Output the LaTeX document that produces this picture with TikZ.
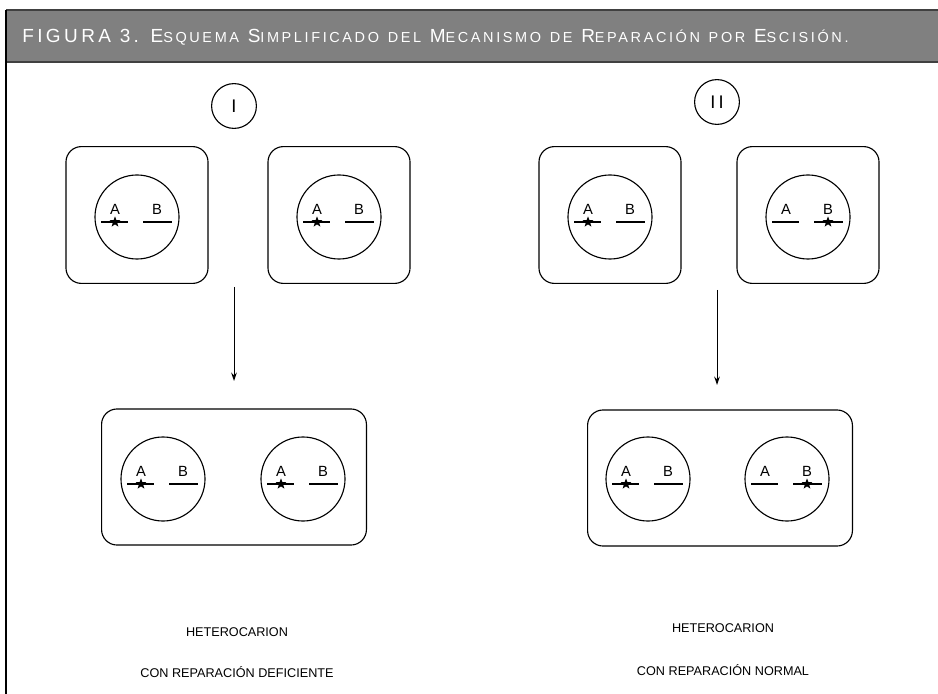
\documentclass[tikz,border=0pt]{standalone}
\usepackage{fontspec}
\setmainfont{Liberation Sans}
\usetikzlibrary{shapes.geometric, arrows.meta, positioning}

% big first letter, small caps for the rest
\newcommand{\hsc}[2]{{\fontsize{13.5}{13.5}\selectfont #1}{\fontsize{10.3}{10.3}\selectfont #2}}

% nucleus with genes A and B; #3 = mark on A, #4 = mark on B
\newcommand{\nucleo}[4]{%
  \node[nucleus] (#1) at #2 {};
  \draw[gen] ([shift={(-36,5)}]#1.center) -- ([shift={(-9,5)}]#1.center);
  \draw[gen] ([shift={(6,5)}]#1.center) -- ([shift={(35,5)}]#1.center);
  \node[gene] (#1a) at ([shift={(-22,-8)}]#1.center) {A};
  \node[gene] (#1b) at ([shift={(20,-8)}]#1.center) {B};
  \ifnum#3=1 \node[mut] (#1m) at ([shift={(-22,5)}]#1.center) {};\fi
  \ifnum#4=1 \node[mut] (#1m) at ([shift={(20,5)}]#1.center) {};\fi
}

\begin{document}
\begin{tikzpicture}[x=0.025cm, y=-0.025cm,
    cell/.style={draw, line width=0.8pt, rounded corners=11pt, minimum width=3.55cm, minimum height=3.42cm},
    hetero/.style={draw, line width=0.8pt, rounded corners=11pt, minimum width=6.62cm, minimum height=3.4cm},
    nucleus/.style={draw, circle, line width=0.8pt, minimum size=2.1cm},
    numeral/.style={draw, circle, line width=0.8pt, minimum size=1.12cm, font=\fontsize{13}{13}\selectfont},
    gen/.style={line width=0.8pt},
    gene/.style={inner sep=0pt, font=\fontsize{10.5}{10.5}\selectfont},
    mut/.style={star, star points=5, star point ratio=2.4, fill=black, inner sep=0pt, minimum size=8pt},
    rotulo/.style={font=\fontsize{9}{9}\selectfont},
    flecha/.style={-{Stealth[length=6pt, width=4pt]}, line width=0.7pt}]
  \useasboundingbox (0,0) rectangle (938,694);

  % title band
  \fill[black!50] (6,10) rectangle (938,62);
  \draw[black!75, line width=0.8pt] (6,10) -- (938,10);
  \draw[black!75, line width=0.8pt] (6,62) -- (938,62);
  \draw[line width=1pt] (6,10) -- (6,694);
  \node[anchor=base west, inner sep=0pt, text=white] (titulo) at (22,43)
    {\addfontfeature{LetterSpace=18}\fontsize{13.5}{13.5}\selectfont FIGURA 3. \hsc{E}{SQUEMA} \hsc{S}{IMPLIFICADO} \hsc{}{DEL} \hsc{M}{ECANISMO} \hsc{}{DE} \hsc{R}{EPARACIÓN} \hsc{}{POR} \hsc{E}{SCISIÓN.}};

  % case I
  \node[numeral] (n1) at (234,106) {I};
  \node[cell] (c1) at (137,215) {};
  \node[cell] (c2) at (339,215) {};
  \nucleo{k1}{(137,217)}{1}{0}
  \nucleo{k2}{(339,217)}{1}{0}
  \coordinate (a1) at (234,287);
  \coordinate (a1e) at (234,381);
  \draw[flecha] (a1) -- (a1e);
  \node[hetero] (h1) at (234,477) {};
  \nucleo{k5}{(163,479)}{1}{0}
  \nucleo{k6}{(303,479)}{1}{0}
  \node[rotulo] (t1) at (237,632) {HETEROCARION};
  \node[rotulo] (t2) at (237,672) {CON REPARACIÓN DEFICIENTE};

  % case II
  \node[numeral] (n2) at (717,102) {I\,I};
  \node[cell] (c3) at (610,215) {};
  \node[cell] (c4) at (808,215) {};
  \nucleo{k3}{(610,217)}{1}{0}
  \nucleo{k4}{(808,217)}{0}{1}
  \coordinate (a2) at (717,290);
  \coordinate (a2e) at (717,385);
  \draw[flecha] (a2) -- (a2e);
  \node[hetero] (h2) at (720,478) {};
  \nucleo{k7}{(648,479)}{1}{0}
  \nucleo{k8}{(787,479)}{0}{1}
  \node[rotulo] (t3) at (723,628) {HETEROCARION};
  \node[rotulo] (t4) at (723,670) {CON REPARACIÓN NORMAL};
\end{tikzpicture}
\end{document}
